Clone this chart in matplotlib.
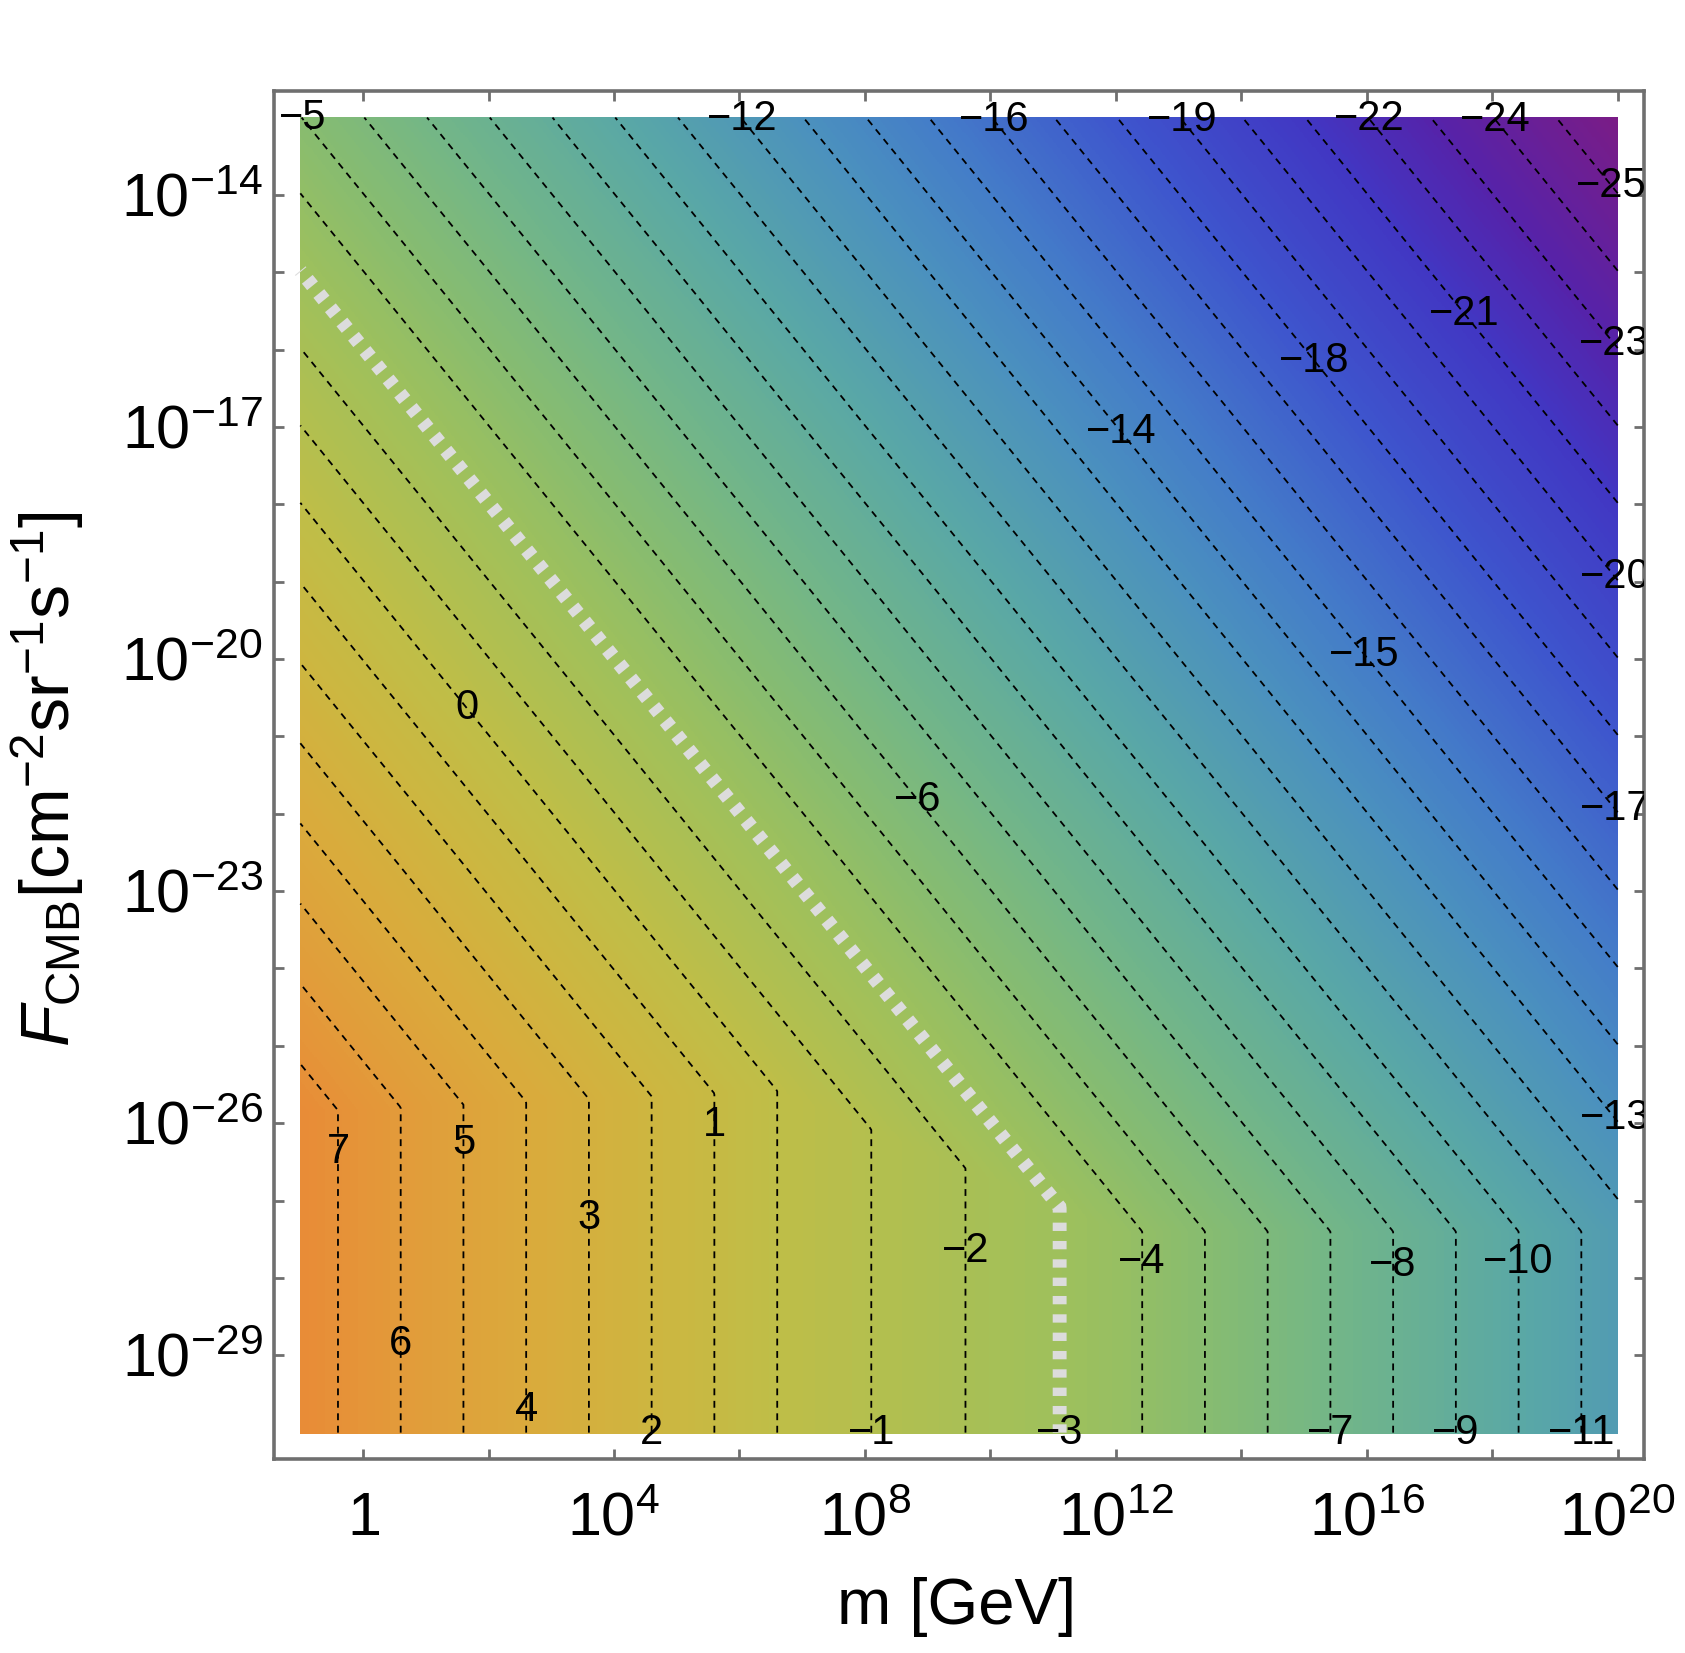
import numpy as np
import matplotlib
matplotlib.use("Agg")
import matplotlib.pyplot as plt
from matplotlib.colors import LinearSegmentedColormap, Normalize
from matplotlib.ticker import NullFormatter
import matplotlib.transforms as mtransforms

plt.rcParams['font.family'] = ['Liberation Sans', 'DejaVu Sans']
plt.rcParams['mathtext.fontset'] = 'custom'
plt.rcParams['mathtext.rm'] = 'Liberation Sans'
plt.rcParams['mathtext.it'] = 'Liberation Sans:italic'
plt.rcParams['mathtext.bf'] = 'Liberation Sans:bold'

# ---------------- data ----------------
log_m_span = [-1.0, 20.0]          # log10(m / GeV) covered by the field
log_F_span = [-30.0, -13.0]        # log10(F_CMB) covered by the field
# upper region: value depends on s = log10(m) + log10(F)
upper_knots_s = [-31.0, -18.98, 7.0]
upper_knots_value = [11.6, 0.0, -25.98]
# lower region (vertical contours): value depends on log10(m) only
low_knots_logm = [-1.0, 6.6, 12.05, 20.0]
low_knots_value = [7.6, 0.0, -3.63, -11.58]
contour_levels = list(range(-25, 8))
highlight_level = -3

color_values = [-26.0, -23.0, -21.0, -18.0, -15.0, -13.0, -10.0, -7.0,
                -5.0, -3.0, 0.0, 2.0, 4.0, 6.0, 7.6]
color_hex = ['#7a1c86', '#5523aa', '#4137c3', '#3e55cd', '#447dc8', '#4b91be',
             '#5aa8a5', '#73b687', '#87bc70', '#9ec05c', '#bebe48', '#cdb640',
             '#daaa3c', '#e29b3a', '#e88c37']

x_major_exp = [0, 4, 8, 12, 16, 20]
x_minor_exp = [2, 6, 10, 14, 18]
y_major_exp = [-29, -26, -23, -20, -17, -14]
y_minor_exp = [-28, -27, -25, -24, -22, -21, -19, -18, -16, -15]

# contour-label anchor points (log10 m, log10 F)
label_points = [
    (-0.95, -13.0), (6.08, -13.0), (10.11, -13.0), (13.10, -13.0), (16.07, -13.0), (18.09, -13.0),
    (20.0, -13.82), (20.0, -15.90), (20.0, -18.92), (20.0, -21.91), (20.0, -25.91),
    (17.56, -15.53), (15.23, -16.11), (12.12, -17.04), (16.02, -19.91), (8.86, -21.81),
    (1.65, -20.63),
    (-0.38, -26.37), (1.61, -26.26), (5.61, -26.02), (3.61, -27.23), (0.62, -28.86),
    (2.61, -29.71), (4.60, -30.0), (8.12, -30.0), (11.09, -30.0), (15.43, -30.0),
    (17.44, -30.0), (19.45, -30.0),
    (9.63, -27.65), (12.43, -27.79), (16.45, -27.83), (18.44, -27.79),
]

# ---------------- field ----------------
lm = np.linspace(log_m_span[0], log_m_span[1], 1003)
lf = np.linspace(log_F_span[0], log_F_span[1], 787)
LM, LF = np.meshgrid(lm, lf)
upper = np.interp(LM + LF, upper_knots_s, upper_knots_value)
lower = np.interp(LM, low_knots_logm, low_knots_value)
Z = np.minimum(upper, lower)
M = 10.0 ** LM
FF = 10.0 ** LF

vmin, vmax = color_values[0], color_values[-1]
pos = [(v - vmin) / (vmax - vmin) for v in color_values]
cmap = LinearSegmentedColormap.from_list('mma', list(zip(pos, color_hex)))
norm = Normalize(vmin=vmin, vmax=vmax)

fig = plt.figure(figsize=(16.85, 16.53), dpi=100)
ax = fig.add_axes([0.1626, 0.1174, 0.8131, 0.8274])
ax.set_xscale('log')
ax.set_yscale('log')
pad_x = 0.02 * (log_m_span[1] - log_m_span[0])
pad_y = 0.02 * (log_F_span[1] - log_F_span[0])
ax.set_xlim(10 ** (log_m_span[0] - pad_x), 10 ** (log_m_span[1] + pad_x))
ax.set_ylim(10 ** (log_F_span[0] - pad_y), 10 ** (log_F_span[1] + pad_y))

ax.pcolormesh(M, FF, Z, cmap=cmap, norm=norm, shading='nearest', rasterized=True)

black_levels = [l for l in contour_levels if l != highlight_level]
cs = ax.contour(M, FF, Z, levels=black_levels, colors='k', linewidths=1.3)
cs.set_linestyle((0, (3.8, 3.1)))
cs_hl = ax.contour(M, FF, Z, levels=[highlight_level], colors='#dcdcdc', linewidths=10)
cs_hl.set_linestyle((0, (0.6, 0.72)))
cs_hl.set_capstyle('butt')
cs_hl.set_joinstyle('miter')

cs_lab = ax.contour(M, FF, Z, levels=contour_levels, colors='k', linewidths=0)
def fmt(v):
    return str(int(round(v))).replace('-', '\u2212')
ax.clabel(cs_lab, manual=[(10.0 ** a, 10.0 ** b) for a, b in label_points],
          inline=False, fontsize=30, colors='k', fmt=fmt)
for t in cs_lab.labelTexts:
    t.set_rotation(0)

# ---------------- axes styling ----------------
frame_col = '#6f6f6f'
for s in ax.spines.values():
    s.set_color(frame_col)
    s.set_linewidth(2.6)

ax.set_xticks([10.0 ** e for e in x_major_exp],
              labels=['$\\mathregular{1}$' if e == 0 else '$\\mathregular{10^{%d}}$' % e for e in x_major_exp])
ax.set_xticks([10.0 ** e for e in x_minor_exp], minor=True)
ax.set_yticks([10.0 ** e for e in y_major_exp],
              labels=['$\\mathregular{10^{%d}}$' % e for e in y_major_exp])
ax.set_yticks([10.0 ** e for e in y_minor_exp], minor=True)
ax.xaxis.set_minor_formatter(NullFormatter())
ax.yaxis.set_minor_formatter(NullFormatter())
ax.tick_params(which='both', direction='in', top=True, right=True, length=7.5,
               width=2.0, color=frame_col, labelsize=44)
ax.tick_params(axis='x', pad=55)
ax.tick_params(axis='y', pad=8)
for lab in ax.get_xticklabels():
    lab.set_verticalalignment('baseline')
off = mtransforms.ScaledTranslation(0, -15.5 / 72, fig.dpi_scale_trans)
for lab in ax.get_yticklabels():
    lab.set_verticalalignment('baseline')
    lab.set_transform(lab.get_transform() + off)

ax.set_xlabel('m [GeV]', fontsize=47, va='center')
ax.xaxis.set_label_coords(0.498, -0.108)
ax.set_ylabel(r'$\mathit{F}_{\mathrm{CMB}}[\mathrm{cm}^{-2}\mathrm{sr}^{-1}\mathrm{s}^{-1}]$',
              fontsize=49, va='center')
ax.yaxis.set_label_coords(-0.165, 0.497)

fig.savefig('out.png', dpi=100)
